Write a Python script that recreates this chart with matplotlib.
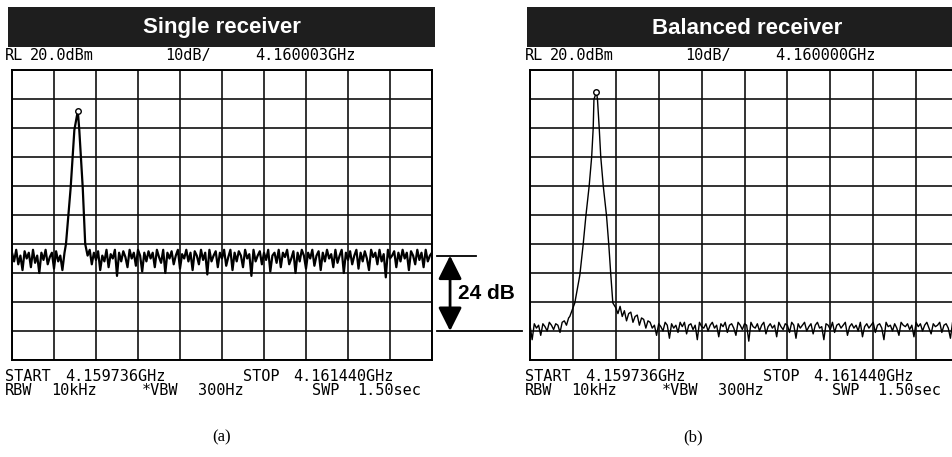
import numpy as np
import matplotlib.pyplot as plt
from matplotlib.patches import Rectangle
from matplotlib.transforms import blended_transform_factory

# 频谱仪截图: 单接收机 vs 平衡接收机
W, H = 953, 457

f_start, f_stop = 4159.736, 4161.440   # MHz
n_sweep = 201
ref_level = 20.0                          # dBm, 10 dB/div
y_bottom = -80.0

# (a) single receiver: peak key points (MHz, dBm)
single_peak_f = [4159.955, 4159.974, 4159.989, 4160.003, 4160.009, 4160.023, 4160.033]
single_peak_db = [-40.0, -20.6, -0.7, 5.9, -0.7, -20.6, -40.0]
single_marker = (4160.003, 5.9)

# noise floor before the peak (sweep points 0..25)
single_noise_a = [-43, -46, -42, -47, -44, -49, -42.5, -45, -43, -48, -42, -46.5, -44,
                  -50, -43, -45.5, -42, -47, -44.5, -43, -48.5, -42.5, -46, -44, -49, -43]
# noise floor after the peak (sweep points 36..200)
single_noise_b = [
    -44, -42, -47, -43, -45.5, -42.5, -49, -44, -46, -42, -48, -43.5, -45, -42, -51,
    -43, -46, -42.5, -44.5, -48, -42, -45, -43, -47.5, -42, -44, -49.5, -43, -46, -42.5,
    -45, -43, -48, -42, -44.5, -46.5, -42, -50, -43, -45, -42.5, -47, -44, -42, -48.5,
    -43.5, -45, -42, -46, -43, -49, -42.5, -44, -47, -42, -45.5, -43, -50.5, -42, -46,
    -44, -42.5, -48, -43, -45, -42, -47.5, -44.5, -42, -49, -43, -46, -42.5, -44, -48,
    -42, -45, -43.5, -51, -42, -46, -44, -42.5, -47, -43, -45.5, -42, -49.5, -44, -43,
    -46.5, -42, -48, -43, -44.5, -42, -47, -45, -42.5, -50, -43, -46, -42, -44, -48.5,
    -43, -45, -42, -47.5, -44, -42.5, -49, -43, -46, -42, -45, -43.5, -48, -42, -46.5,
    -44, -42, -50, -43, -45.5, -42.5, -47, -44, -42, -48.5, -43, -46, -42.5, -45, -49,
    -42, -44.5, -43, -47, -42, -46, -43.5, -51.5, -42, -45, -44, -42.5, -48, -43, -46,
    -42, -45, -43, -49, -42.5, -44, -47, -42, -45.5, -43, -48, -42, -46, -44, -43]

# (b) balanced receiver
balanced_peak_f = [4159.894, 4159.914, 4159.934, 4159.947, 4159.958, 4159.971, 4159.981,
                   4159.987, 4159.990, 4160.000, 4160.004, 4160.011, 4160.017, 4160.027,
                   4160.040, 4160.049, 4160.057, 4160.065]
balanced_peak_db = [-65.0, -60.3, -50.7, -40.3, -30.3, -20.0, -9.9, -0.1, 9.9, 12.4, 9.9,
                    -0.1, -9.9, -20.0, -30.3, -40.3, -50.7, -60.3]
balanced_marker = (4160.000, 12.4)

# sweep points 0..18
balanced_noise_a = [-68, -73, -67.5, -69, -68, -71.5, -67.5, -68.5, -70, -67, -68, -69.5,
                    -67.5, -68, -70.5, -67, -66.5, -68, -65.5]
# sweep points 40..200 (tail of the peak, then floor)
balanced_noise_b = [
    -62, -64, -61.5, -65, -63, -66.5, -64, -63.5, -67, -65, -64.5, -68, -65.5, -66, -69, -66.5,
    -67, -69, -68, -71.5, -67.5, -68.5, -70, -67, -68, -72.5, -67.5, -69, -68, -70.5, -67,
    -68.5, -67, -71, -68, -67.5, -69.5, -68, -73, -67, -68.5, -69, -67.5, -70, -68, -67,
    -69, -68, -72, -67.5, -68.5, -67, -70.5, -68, -67.5, -69, -71.5, -67, -68, -69.5, -67.5,
    -68, -73.5, -67, -68.5, -69, -67.5, -70, -68, -67, -71, -68.5, -67.5, -69, -68, -72,
    -67, -68.5, -69.5, -67.5, -68, -70.5, -67, -68, -72.5, -67.5, -69, -68, -67, -70, -68.5,
    -67.5, -71, -68, -67, -69, -68.5, -73, -67.5, -68, -69.5, -67, -70.5, -68, -67.5, -69,
    -68, -67, -71.5, -68.5, -67.5, -69, -68, -70, -67, -72, -68.5, -67.5, -69, -68, -67,
    -70.5, -68, -67.5, -69, -73, -67, -68.5, -68, -70, -67.5, -69, -71.5, -67, -68, -68.5,
    -67.5, -69.5, -68, -72, -67, -68.5, -67.5, -70, -68, -67, -69, -71, -67.5, -68.5, -68,
    -67, -70.5, -68, -67.5, -69, -72.5, -67, -68.5, -68, -69.5]

# 屏幕上的文字 (token, 右图中的 x 像素); 左图整体左移 520 px
header_tokens = ['RL', '20.0dBm', '10dB/']
header_x = [525, 550, 685]
marker_freq_x = 775
single_marker_label = '4.160003GHz'
balanced_marker_label = '4.160000GHz'
footer1_tokens = ['START', '4.159736GHz', 'STOP', '4.161440GHz']
footer1_x = [525, 585, 763, 813]
footer2_tokens = ['RBW', '10kHz', '*VBW', '300Hz', 'SWP', '1.50sec']
footer2_x = [525, 571, 662, 718, 832, 877]

# 24 dB 标注两端的电平
annot_top_db = -44.0
annot_bottom_db = -70.0
annot_label = '24 dB'

sweep = np.linspace(f_start, f_stop, n_sweep)
single_x = np.concatenate([sweep[:26], single_peak_f, sweep[36:]])
single_y = np.concatenate([single_noise_a, single_peak_db, single_noise_b])
balanced_x = np.concatenate([sweep[:19], balanced_peak_f, sweep[40:]])
balanced_y = np.concatenate([balanced_noise_a, balanced_peak_db, balanced_noise_b])

fig = plt.figure(figsize=(W / 100, H / 100), dpi=100)


def fx(px):
    return px / W


def fy(py):
    return 1 - py / H


mono = ['DejaVu Sans Mono']
mono_size = 11


def screen(left_px, width_px, x, y, trace_lw, marker, marker_label, title, title_cx,
           bar_x0, bar_x1, shift):
    ax = fig.add_axes([fx(left_px), fy(360), width_px / W, 290 / H])
    ax.plot(x, y, color='black', lw=trace_lw)
    ax.plot(*marker, marker='o', ms=4, mfc='white', mec='black', mew=1)
    ax.set_xlim(f_start, f_stop)
    ax.set_ylim(y_bottom, ref_level)
    ax.set_xticks(np.linspace(f_start, f_stop, 11))
    ax.set_yticks(np.arange(y_bottom, ref_level + 1, 10))
    ax.grid(True, color='#111111', lw=1.2)
    ax.tick_params(length=0, labelbottom=False, labelleft=False)
    for s in ax.spines.values():
        s.set_linewidth(1.4)
    # 标题栏
    fig.patches.append(Rectangle((fx(bar_x0), fy(47)), (bar_x1 - bar_x0) / W, 40 / H,
                                 transform=fig.transFigure, facecolor='#1e1e1e',
                                 edgecolor='none'))
    fig.text(fx(title_cx), fy(28), title, color='white', fontsize=16, weight='bold',
             family='Liberation Sans', ha='center', va='center')
    rows = [(header_tokens + [marker_label], header_x + [marker_freq_x], 60),
            (footer1_tokens, footer1_x, 381),
            (footer2_tokens, footer2_x, 395)]
    for tokens, xs, base in rows:
        for txt, px in zip(tokens, xs):
            fig.text(fx(px - shift), fy(base), txt, fontsize=mono_size, family=mono,
                     ha='left', va='baseline')
    return ax


ax1 = screen(12, 420, single_x, single_y, 1.6, single_marker, single_marker_label,
             'Single receiver', 222, 8, 435, 520)
ax2 = screen(530, 429, balanced_x, balanced_y, 1.0, balanced_marker, balanced_marker_label,
             'Balanced receiver', 747, 527, 953, 0)

# 24 dB 标注
tr = blended_transform_factory(ax1.transAxes, ax1.transData)
ax1.plot([1.012, 1.105], [annot_top_db] * 2, color='black', lw=1.3, transform=tr,
         clip_on=False)
ax1.plot([1.012, 1.214], [annot_bottom_db] * 2, color='black', lw=1.3, transform=tr,
         clip_on=False)
ax1.annotate('', xy=(1.043, annot_bottom_db), xytext=(1.043, annot_top_db),
             xycoords=tr, textcoords=tr,
             arrowprops=dict(arrowstyle='<|-|>,head_length=0.9,head_width=0.45',
                             color='black', lw=2, shrinkA=0, shrinkB=0,
                             mutation_scale=16))
ax1.text(1.062, (annot_top_db + annot_bottom_db) / 2, annot_label, transform=tr,
         fontsize=15, weight='bold', family='Liberation Sans', ha='left', va='center')

fig.text(fx(222), fy(437), '(a)', fontsize=12, family='Liberation Serif',
         ha='center', va='center')
fig.text(fx(693), fy(437), '(b)', fontsize=12, family='Liberation Serif',
         ha='center', va='center')

fig.savefig('out.png', dpi=100)
